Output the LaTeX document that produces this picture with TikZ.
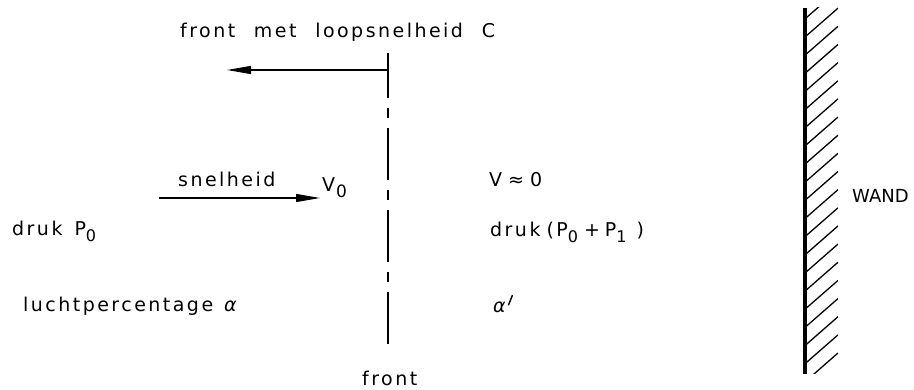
\documentclass[tikz,border=0pt]{standalone}
\usepackage{fontspec}
\usepackage{graphicx}
\setmainfont{DejaVu Sans}[LetterSpace=13,WordSpace=2.2]
\newfontfamily\capsfont{DejaVu Sans}
\usetikzlibrary{arrows.meta}
% lowered index digit
\newcommand\lowsub[1]{\raisebox{-6pt}{\fontsize{16}{16}\selectfont #1}}
% straight slanted prime stroke
\newcommand\strokeprime{\hspace{2pt}\raisebox{8pt}{\rotatebox{-22}{\rule{1.4pt}{11pt}}}}
\begin{document}
\begin{tikzpicture}[x=1pt,y=-1pt,
  lbl/.style={anchor=base west,inner sep=0pt,font=\fontsize{19}{22}\selectfont},
  arr/.style={-{Triangle[length=24pt,width=8pt]},line width=1.2pt},
  frontline/.style={line width=1.3pt,dash pattern=on 52pt off 10pt on 10pt off 10pt,dash phase=7pt},
  hatch/.style={line width=1.3pt}]
\useasboundingbox (0,0) rectangle (914,390);

% the front (dash-dot vertical line)
\coordinate (ftop) at (388,53);
\coordinate (fbot) at (388,345);
\draw[frontline] (ftop) -- (fbot);

% front propagation speed C
\coordinate (cstart) at (388,70);
\coordinate (cend) at (227,70);
\draw[arr] (cstart) -- (cend);
\node[lbl] (ctext) at (180,38) {front met loopsnelheid C};
\node[lbl] (fname) at (362,385) {front};

% incoming flow, left of the front
\coordinate (vstart) at (159,198);
\coordinate (vend) at (320,198);
\draw[arr] (vstart) -- (vend);
\node[lbl] (snel) at (178,187) {snelheid};
\node[lbl] (v0) at (322,192) {V\hspace{1pt}\lowsub{\fontsize{17}{17}\selectfont 0}};
\node[lbl] (p0) at (12,236) {druk\hspace{12pt}P\lowsub{0}};
\node[lbl] (alpha) at (23,312) {luchtpercentage\hspace{11pt}{\itshape α}};

% state behind the front
\node[lbl] (vnul) at (489,187) {V\hspace{6pt}≈\hspace{6pt}0};
\node[lbl] (p1) at (490,237) {druk\hspace{6pt}(P\lowsub{0}\hspace{6pt}+\hspace{5pt}P\lowsub{1}\hspace{10pt})};
\node[lbl] (alphap) at (493,313) {{\itshape α}\strokeprime};

% the wall
\begin{scope}
  \clip (806,8) rectangle (838,374);
  \foreach \k in {0,...,21}{
    \draw[hatch] (806,{381-18.15*\k}) -- (838,{381-18.15*\k-28});
  }
\end{scope}
\coordinate (wtop) at (805,8);
\coordinate (wbot) at (805,374);
\draw[line width=4pt] (wtop) -- (wbot);
\node[lbl,font=\capsfont\fontsize{18}{22}\selectfont] (wand) at (852,203) {WAND};
\end{tikzpicture}
\end{document}
